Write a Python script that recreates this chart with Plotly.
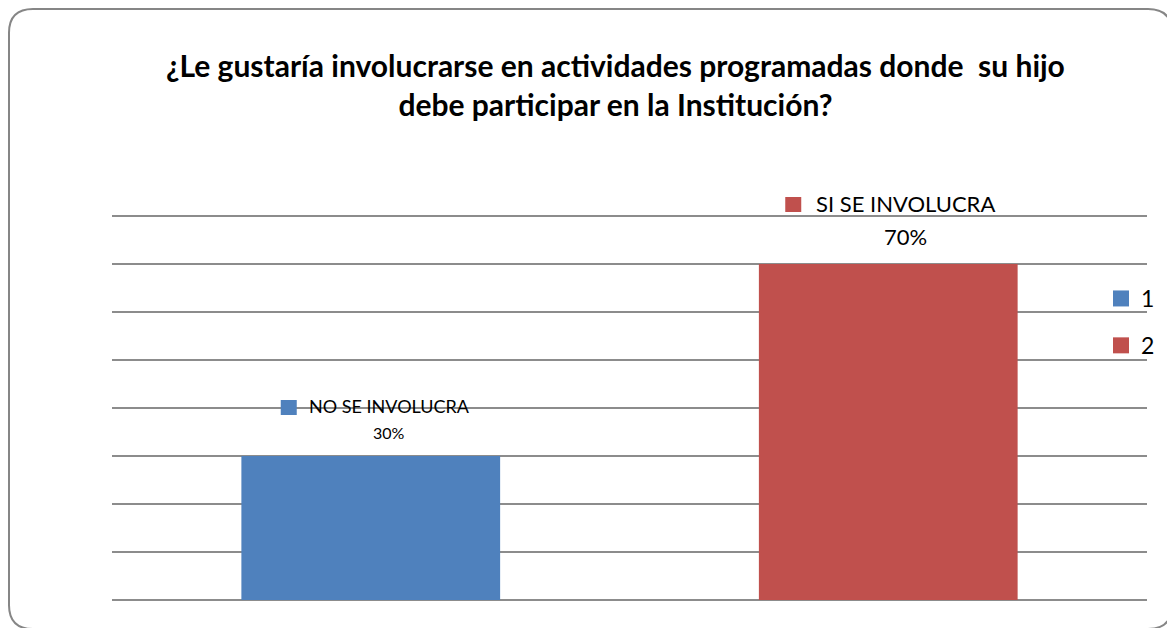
import plotly.graph_objects as go

categories = ["NO SE INVOLUCRA", "SI SE INVOLUCRA"]
values = [0.30, 0.70]
series_names = ["1", "2"]
colors = ["#4F81BD", "#C0504D"]
title_text = "¿Le gustaría involucrarse en actividades programadas donde  su hijo<br>debe participar en la Institución?"

# the page adds an 8px body margin, so everything is laid out 8px up/left
W, H = 1175, 628
ML, MR, MT, MB = 104, 36, 203, 36
PW, PH = W - ML - MR, H - MT - MB
YMAX = PH / 480.0  # 48px per 10%, a bit of headroom so the 80% gridline is drawn
FONT = "Lato"


def px2paper(x, y):
    return (x - ML) / PW, (H - MB - y) / PH


def rounded_rect(x0, y0, x1, y1, r):
    # build path in pixel space then convert to paper units
    def P(x, y):
        a, b = px2paper(x, y)
        return f"{a:.5f},{b:.5f}"
    path = (f"M {P(x0 + r, y0)} L {P(x1 - r, y0)} Q {P(x1, y0)} {P(x1, y0 + r)} "
            f"L {P(x1, y1 - r)} Q {P(x1, y1)} {P(x1 - r, y1)} "
            f"L {P(x0 + r, y1)} Q {P(x0, y1)} {P(x0, y1 - r)} "
            f"L {P(x0, y0 + r)} Q {P(x0, y0)} {P(x0 + r, y0)} Z")
    return path


fig = go.Figure()
for i in range(len(categories)):
    fig.add_trace(go.Bar(x=[categories[i]], y=[values[i]], name=series_names[i],
                         marker=dict(color=colors[i], line=dict(width=0)),
                         showlegend=False, hoverinfo="skip"))
    # legend entry with a bigger square key
    fig.add_trace(go.Scatter(x=[None], y=[None], mode="markers", name=series_names[i],
                             marker=dict(symbol="square", size=16, color=colors[i]),
                             legendgroup=series_names[i]))

# data labels (Excel style, with legend key)
label_sizes = [18, 22]
pct_sizes = [16, 22]
lab_shift = [(19, 37), (17, 45)]
pct_shift = [(18, 12), (17, 12)]
key_box = [(-90, -74, 41, 56), (-103, -87, 52, 67)]
for i in range(len(categories)):
    fig.add_annotation(x=categories[i], y=values[i], yref="y", xref="x",
                       text=categories[i],
                       showarrow=False, yanchor="bottom",
                       xshift=lab_shift[i][0], yshift=lab_shift[i][1],
                       font=dict(family=FONT, size=label_sizes[i], color="#000000"))
    fig.add_annotation(x=categories[i], y=values[i], yref="y", xref="x",
                       text=f"{values[i]:.0%}",
                       showarrow=False, yanchor="bottom",
                       xshift=pct_shift[i][0], yshift=pct_shift[i][1],
                       font=dict(family=FONT, size=pct_sizes[i], color="#000000"))
    k = key_box[i]
    fig.add_shape(type="rect", xref="x", yref="paper", xsizemode="pixel", ysizemode="pixel",
                  xanchor=categories[i], yanchor=values[i] / YMAX,
                  x0=k[0], x1=k[1], y0=k[2], y1=k[3],
                  fillcolor=colors[i], line=dict(width=0), layer="above")

tx, ty = px2paper(607, 76)
fig.add_annotation(x=tx, y=ty, xref="paper", yref="paper",
                   text=f"<b>{title_text}</b>", showarrow=False,
                   xanchor="center", yanchor="middle",
                   font=dict(family=FONT, size=30, color="#000000"))

fig.add_shape(type="path", xref="paper", yref="paper",
              path=rounded_rect(1, 1, 1164, 621, 24),
              line=dict(color="#868686", width=2), layer="above")

lx, ly = px2paper(1093, 269)
fig.update_layout(
    width=W, height=H,
    margin=dict(l=ML, r=MR, t=MT, b=MB),
    paper_bgcolor="white", plot_bgcolor="white",
    barmode="overlay", bargap=0.5,
    showlegend=True,
    legend=dict(x=lx, y=ly, xanchor="left", yanchor="top",
                font=dict(family=FONT, size=23, color="#000000"),
                bgcolor="rgba(0,0,0,0)", tracegroupgap=14, traceorder="grouped"),
    xaxis=dict(showticklabels=False, showgrid=False, zeroline=False, showline=False,
               fixedrange=True),
    yaxis=dict(range=[0, YMAX], tickvals=[0.1 * k for k in range(9)],
               showticklabels=False, showgrid=True,
               gridcolor="#8c8c8c", gridwidth=1.5, zeroline=True, zerolinecolor="#8c8c8c",
               zerolinewidth=2, showline=False),
)
fig.update_traces(cliponaxis=False, selector=dict(type="bar"))

fig.write_html("out.html")
